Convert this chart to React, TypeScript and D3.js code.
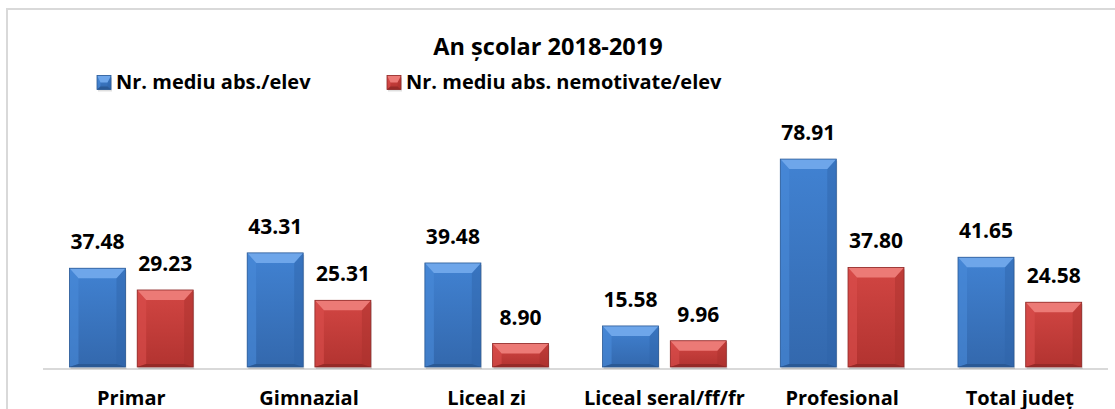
import React, { useEffect } from 'react';
import * as d3 from 'd3';

const title = 'An școlar 2018-2019';
const categories = ['Primar', 'Gimnazial', 'Liceal zi', 'Liceal seral/ff/fr', 'Profesional', 'Total județ'];
const seriesNames = ['Nr. mediu abs./elev', 'Nr. mediu abs. nemotivate/elev'];
const absTotal = [37.48, 43.31, 39.48, 15.58, 78.91, 41.65];
const absNemotivate = [29.23, 25.31, 8.9, 9.96, 37.8, 24.58];

const W = 1115;
const H = 409;

type Pal = { face1: string; face2: string; top: string; left: string; right: string; bottom: string; stroke: string };
const palettes: Pal[] = [
  { face1: '#4182d2', face2: '#3368ad', top: '#6ea6ea', left: '#4a8bd9', right: '#2f64a8', bottom: '#28558f', stroke: '#2b5a96' },
  { face1: '#d24643', face2: '#b23330', top: '#ec7a76', left: '#da4f4c', right: '#a8302d', bottom: '#8e2826', stroke: '#8e2a28' },
];

const FONT = "'Open Sans', 'DejaVu Sans', sans-serif";

function BevelBar({ x, y, w, h, pal, id }: { x: number; y: number; w: number; h: number; pal: Pal; id: string }) {
  const bt = Math.min(10, h / 2);
  const bs = Math.min(9, w / 4);
  const bb = Math.min(3, h / 4);
  const pts = (arr: number[][]) => arr.map((p) => p.join(',')).join(' ');
  return (
    <g>
      <rect x={x + 1} y={y + 2} width={w} height={h} fill="#000" opacity={0.12} />
      <rect x={x} y={y} width={w} height={h} fill={`url(#${id})`} />
      <polygon points={pts([[x, y], [x + bs, y + bt], [x + bs, y + h - bb], [x, y + h]])} fill={pal.left} opacity={0.6} />
      <polygon points={pts([[x + w, y], [x + w - bs, y + bt], [x + w - bs, y + h - bb], [x + w, y + h]])} fill={pal.right} opacity={0.45} />
      <polygon points={pts([[x, y], [x + w, y], [x + w - bs, y + bt], [x + bs, y + bt]])} fill={pal.top} />
      <polygon points={pts([[x, y + h], [x + w, y + h], [x + w - bs, y + h - bb], [x + bs, y + h - bb]])} fill={pal.bottom} opacity={0.8} />
      <rect x={x} y={y} width={w} height={h} fill="none" stroke={pal.stroke} strokeWidth={0.8} />
    </g>
  );
}

export default function App() {
  useEffect(() => {
    document.body.style.margin = '0';
  }, []);

  const baseline = 367;
  const y = d3.scaleLinear().domain([0, 100]).range([baseline, baseline - 263.5]);
  const x0 = d3.scaleBand<string>().domain(categories).range([42.5, 1108.7]).paddingInner(0).paddingOuter(0);
  const x1 = d3
    .scaleBand<string>()
    .domain(seriesNames)
    .range([27, x0.bandwidth() - 27])
    .paddingInner(0.173)
    .paddingOuter(0);
  const data = [absTotal, absNemotivate];

  return (
    <svg width={W} height={H} style={{ display: 'block', position: 'absolute', left: 0, top: 0 }} fontFamily={FONT}>
      <defs>
        {palettes.map((p, i) => (
          <linearGradient key={i} id={`g${i}`} x1="0" y1="0" x2="0" y2="1">
            <stop offset="0" stopColor={p.face1} />
            <stop offset="1" stopColor={p.face2} />
          </linearGradient>
        ))}
      </defs>
      <rect x={0} y={0} width={W} height={H} fill="#fff" />
      <rect x={7} y={9} width={1140} height={440} fill="#fff" stroke="#d9d9d9" strokeWidth={2} />

      <text x={548} y={55} textAnchor="middle" fontSize={23.5} fontWeight="bold" fill="#000">
        {title}
      </text>

      {seriesNames.map((s, i) => {
        const lx = [97, 387][i];
        return (
          <g key={s}>
            <BevelBar x={lx} y={75.5} w={14} h={14} pal={palettes[i]} id={`g${i}`} />
            <text x={lx + 19} y={89} fontSize={20} fontWeight="bold" fill="#000">
              {s}
            </text>
          </g>
        );
      })}

      <line x1={43} x2={1108} y1={baseline + 2} y2={baseline + 2} stroke="#d9d9d9" strokeWidth={2} />

      {categories.map((c, ci) => (
        <g key={c} transform={`translate(${x0(c)},0)`}>
          {seriesNames.map((s, si) => {
            const v = data[si][ci];
            const bx = x1(s)!;
            const bw = x1.bandwidth();
            const top = y(v);
            return (
              <g key={s}>
                <BevelBar x={bx} y={top} w={bw} h={baseline - top} pal={palettes[si]} id={`g${si}`} />
                <text x={bx + bw / 2} y={top - 19} textAnchor="middle" fontSize={21} fontWeight="bold" fill="#000">
                  {v.toFixed(2)}
                </text>
              </g>
            );
          })}
          <text x={x0.bandwidth() / 2} y={405} textAnchor="middle" fontSize={20} fontWeight="bold" fill="#000">
            {c}
          </text>
        </g>
      ))}
    </svg>
  );
}
